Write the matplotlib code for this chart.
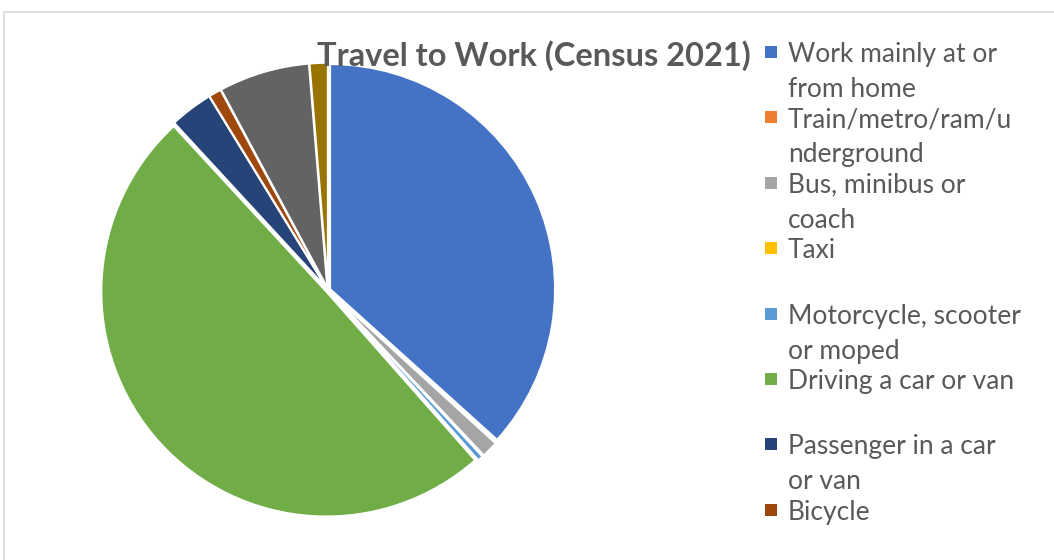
import matplotlib.pyplot as plt
from matplotlib.patches import Rectangle

# travel to work shares (%)
modes = ['Work mainly at or\nfrom home', 'Train/metro/ram/u\nnderground', 'Bus, minibus or\ncoach', 'Taxi',
         'Motorcycle, scooter\nor moped', 'Driving a car or van', 'Passenger in a car\nor van', 'Bicycle',
         'On foot', 'Other method of\ntravel to work']
shares = [36.5, 0.1, 1.2, 0.1, 0.4, 49.4, 3.1, 0.9, 6.5, 1.3]
colors = ['#4472C4', '#ED7D31', '#A5A5A5', '#FFC000', '#5B9BD5', '#70AD47',
          '#264478', '#9E480E', '#636363', '#997300']

W, H = 1054, 560
text_col = '#595959'
plt.rcParams['font.family'] = ['Lato', 'DejaVu Sans']

fig = plt.figure(figsize=(W / 100, H / 100), dpi=100)

# chart area border (runs off right / bottom)
fig.patches.append(Rectangle((4 / W, -0.1), 1.2, 1 - 11.5 / H + 0.1, transform=fig.transFigure,
                             fill=False, edgecolor='#D9D9D9', linewidth=1.2))

cx, cy, r = 328, 290, 225
ax = fig.add_axes([(cx - r) / W, (H - cy - r) / H, 2 * r / W, 2 * r / H])
ax.pie(shares, colors=colors, startangle=90, counterclock=False,
       explode=[0.01] * len(shares),
       wedgeprops=dict(edgecolor='white', linewidth=1.5))
ax.set_xlim(-1, 1)
ax.set_ylim(-1, 1)
ax.set_aspect('equal')

fig.text(534 / W, 1 - 56 / H, 'Travel to Work (Census 2021)', ha='center', va='center',
         fontsize=23.5, fontweight='bold', color=text_col)

# legend: each entry takes two line slots; the frame cuts it off after Bicycle
y0, step = 52, 32.7
for i, (label, c) in enumerate(zip(modes[:8], colors[:8])):
    y = y0 + i * 2 * step
    fig.patches.append(Rectangle(((771 - 6) / W, 1 - (y + 6) / H), 12 / W, 12 / H,
                                 transform=fig.transFigure, facecolor=c, edgecolor='none'))
    fig.text(788 / W, 1 - (y - 10) / H, label, ha='left', va='top', fontsize=19,
             color=text_col, linespacing=1.5)

fig.savefig('out.png', dpi=100)
